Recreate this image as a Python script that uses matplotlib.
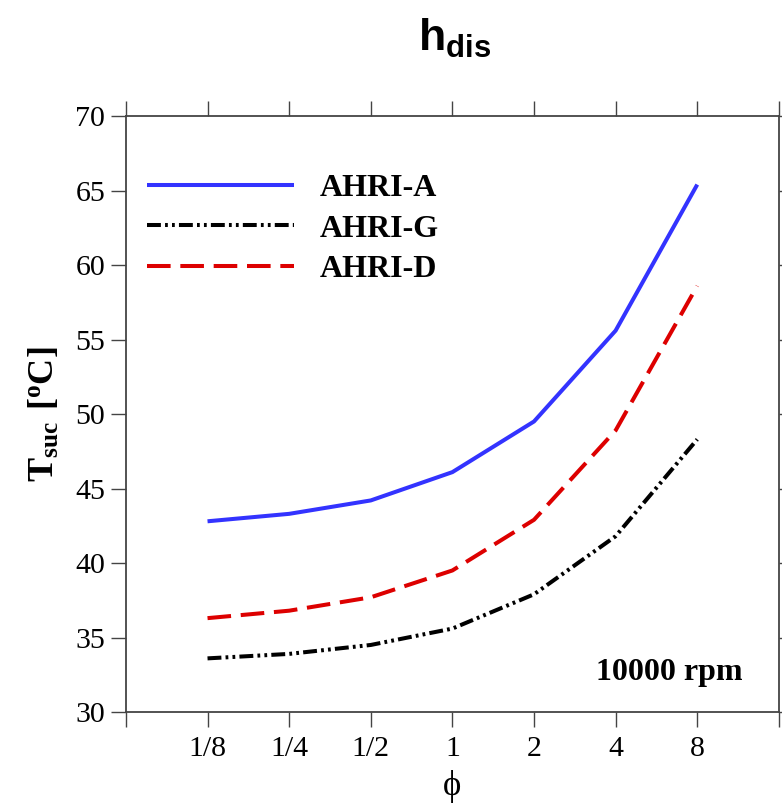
import matplotlib
matplotlib.use("Agg")
import matplotlib.pyplot as plt

plt.rcParams['mathtext.fontset'] = 'custom'
plt.rcParams['mathtext.rm'] = 'Liberation Serif'
plt.rcParams['mathtext.bf'] = 'Liberation Serif:bold'
plt.rcParams['mathtext.sf'] = 'Liberation Sans:bold'
plt.rcParams['lines.scale_dashes'] = False

categories = ['1/8', '1/4', '1/2', '1', '2', '4', '8']
ahri_a = [42.8, 43.3, 44.2, 46.1, 49.5, 55.6, 65.4]
ahri_g = [33.6, 33.9, 34.5, 35.6, 37.9, 41.8, 48.3]
ahri_d = [36.3, 36.8, 37.7, 39.5, 42.9, 48.9, 58.6]
yticks = [30, 35, 40, 45, 50, 55, 60, 65, 70]

fig = plt.figure(figsize=(7.82, 8.08), dpi=100)
ax = fig.add_axes([0.161, 0.1188, 0.835, 0.7376])

xpos = list(range(1, len(categories) + 1))
ax.plot(xpos, ahri_a, color='#3333ff', lw=2.9, label='AHRI-A', solid_capstyle='butt')
ax.plot(xpos, ahri_g, color='black', lw=2.9, dashes=(10, 3, 2, 3, 2, 3), label='AHRI-G',
        dash_capstyle='butt')
ax.plot(xpos, ahri_d, color='#dd0000', lw=2.9, dashes=(17, 7), label='AHRI-D',
        dash_capstyle='butt')

ax.set_xlim(0, 8)
ax.set_ylim(30, 70)
ax.set_yticks(yticks)
ax.set_xticks(list(range(0, 9)))
ax.set_xticklabels([''] + categories + [''])

serif = 'Liberation Serif'
for lab in ax.get_xticklabels() + ax.get_yticklabels():
    lab.set_fontfamily(serif)
    lab.set_fontsize(21.5)

ax.tick_params(axis='both', which='both', direction='out', length=11, width=1.0,
               color='#444444', top=True, right=True)
ax.tick_params(axis='y', pad=4)
ax.tick_params(axis='x', pad=6)
for s in ax.spines.values():
    s.set_color('#444444')
    s.set_linewidth(1.3)

ax.set_xlabel('ϕ', fontfamily=serif, fontsize=25, labelpad=6)
ax.set_ylabel(r'$\mathbf{T_{suc}\ [^{o}C]}$', fontsize=26, labelpad=10)

fig.text(0.582, 0.953, r'$\mathsf{h_{dis}}$', fontsize=32, ha='center', va='center')

leg = ax.legend(loc='upper left', bbox_to_anchor=(-0.011, 0.952), frameon=False,
                handlelength=4.6, handletextpad=0.8, labelspacing=0.36,
                prop={'family': serif, 'weight': 'bold', 'size': 23})

ax.text(0.945, 0.067, '10000 rpm', transform=ax.transAxes, ha='right', va='center',
        fontfamily=serif, fontweight='bold', fontsize=23)

fig.savefig('out.png', dpi=100)
